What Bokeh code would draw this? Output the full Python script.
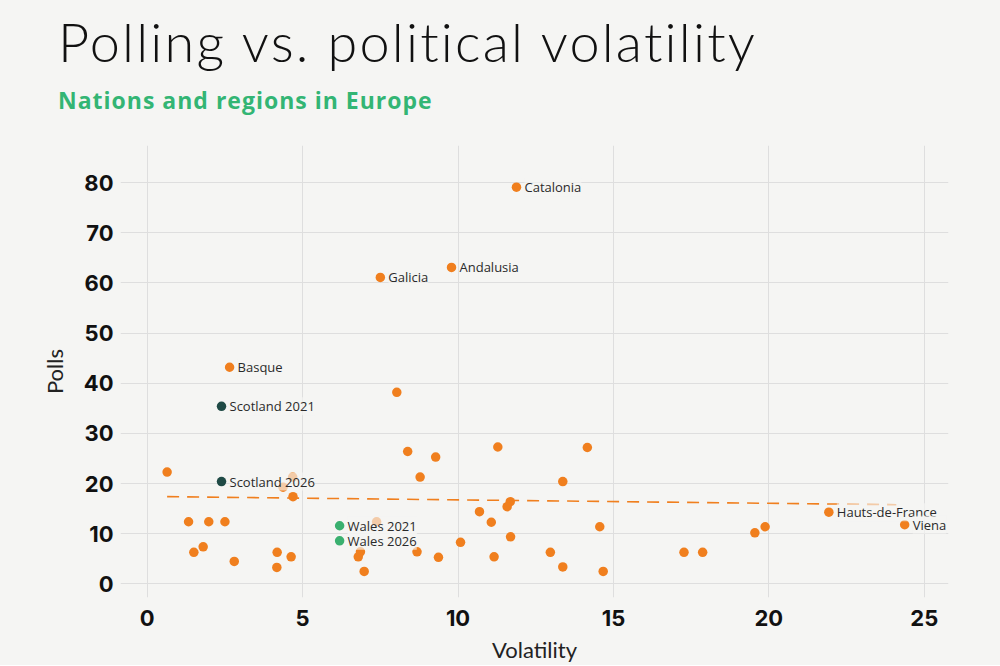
from bokeh.plotting import figure
from bokeh.models import ColumnDataSource, LabelSet, Div, Range1d, FixedTicker
from bokeh.layouts import column
from bokeh.core.properties import value
from bokeh.embed import file_html
from bokeh.resources import INLINE

# ---------------- data ----------------
other_x = [8.03, 8.38, 8.78, 0.64, 4.68, 4.37, 4.69, 1.33, 1.98, 2.50, 7.38, 1.50, 1.80, 2.80,
           4.18, 4.63, 4.17, 6.86, 6.79, 6.98, 8.68, 9.28, 11.28, 14.16, 13.37, 11.68, 11.58,
           10.69, 11.07, 14.56, 10.08, 11.69, 9.37, 11.16, 12.97, 13.37, 14.67, 17.27, 17.87,
           19.55, 19.88]
other_y = [38.2, 26.4, 21.3, 22.3, 21.3, 19.3, 17.4, 12.4, 12.4, 12.4, 12.4, 6.3, 7.4, 4.5,
           6.3, 5.4, 3.3, 6.4, 5.4, 2.5, 6.4, 25.3, 27.3, 27.2, 20.4, 16.4, 15.4,
           14.4, 12.3, 11.4, 8.3, 9.4, 5.3, 5.4, 6.3, 3.4, 2.5, 6.3, 6.3,
           10.2, 11.4]

named_regions = ["Catalonia", "Andalusia", "Galicia", "Basque", "Hauts-de-France", "Viena"]
named_x = [11.88, 9.79, 7.50, 2.65, 21.93, 24.37]
named_y = [79.1, 63.1, 61.1, 43.2, 14.3, 11.8]

scotland_labels = ["Scotland 2021", "Scotland 2026"]
scotland_x = [2.39, 2.39]
scotland_y = [35.4, 20.4]

wales_labels = ["Wales 2021", "Wales 2026"]
wales_x = [6.19, 6.19]
wales_y = [11.6, 8.6]

trend_x = [0.64, 24.10]
trend_y = [17.4, 15.8]

x_ticks = [0, 5, 10, 15, 20, 25]
y_ticks = [0, 10, 20, 30, 40, 50, 60, 70, 80]

# ---------------- styling ----------------
BG = "#f5f5f3"
ORANGE = "#f07f1e"
SCOT = "#1f4a45"
WALES = "#3ab06f"
GRID = "#dedede"

header = Div(
    text=(
        '<div style="padding-top:15px;padding-left:58px;font-family:Lato;font-weight:300;'
        'font-size:54px;line-height:54px;color:#111;white-space:nowrap;letter-spacing:2.2px;">'
        'Polling vs. political volatility</div>'
        '<div style="margin-top:20px;padding-left:58px;font-family:\'Open Sans\';font-weight:700;'
        'font-size:23px;line-height:23px;color:#33b574;white-space:nowrap;letter-spacing:1px;">'
        'Nations and regions in Europe</div>'
    ),
    width=1000, height=128, margin=(0, 0, 0, 0),
    styles={"background-color": BG},
)

p = figure(
    frame_width=828, frame_height=452,
    min_border_left=120, min_border_right=52, min_border_top=17, min_border_bottom=62,
    x_range=Range1d(-0.86, 25.78), y_range=Range1d(-2.7, 87.4),
    output_backend="svg", toolbar_location=None,
    background_fill_color=BG, border_fill_color=BG,
    margin=(0, 0, 0, 0),
)
p.outline_line_color = None

p.xaxis.ticker = FixedTicker(ticks=x_ticks)
p.yaxis.ticker = FixedTicker(ticks=y_ticks)
for ax in (p.xaxis, p.yaxis):
    ax.axis_line_color = None
    ax.major_tick_line_color = None
    ax.minor_tick_line_color = None
    ax.major_tick_out = 0
    ax.major_tick_in = 0
    ax.major_label_text_font = "Inter"
    ax.major_label_text_font_style = "bold"
    ax.major_label_text_font_size = "22px"
    ax.major_label_text_color = "#111111"
    ax.axis_label_text_font = "Lato"
    ax.axis_label_text_font_style = "normal"
    ax.axis_label_text_font_size = "22px"
    ax.axis_label_text_color = "#222222"
p.xaxis.major_label_standoff = 12
p.yaxis.major_label_standoff = 7
p.xaxis.axis_label = "Volatility"
p.yaxis.axis_label = "Polls"
p.xaxis.axis_label_standoff = 7
p.yaxis.axis_label_standoff = 13

p.xgrid.grid_line_color = GRID
p.ygrid.grid_line_color = GRID
p.xgrid.grid_line_width = 1
p.ygrid.grid_line_width = 1

# trend line
p.line(trend_x, trend_y, line_color=ORANGE, line_width=1.6, line_dash="12 8")

# points
p.scatter(other_x, other_y, size=9.5, fill_color=ORANGE, line_color=None)
p.scatter(named_x, named_y, size=9.5, fill_color=ORANGE, line_color=None)
p.scatter(scotland_x, scotland_y, size=9.5, fill_color=SCOT, line_color=None)
p.scatter(wales_x, wales_y, size=9.5, fill_color=WALES, line_color=None)

lab_src = ColumnDataSource(dict(
    x=named_x + scotland_x + wales_x,
    y=named_y + scotland_y + wales_y,
    name=named_regions + scotland_labels + wales_labels,
))
labels = LabelSet(
    x="x", y="y", text="name", source=lab_src,
    x_offset=8, y_offset=0, text_baseline="middle", text_align="left",
    text_font=value("Open Sans"), text_font_size=value("13px"), text_color="#2a2a2a",
    background_fill_color=BG, background_fill_alpha=0.65,
)
p.add_layout(labels)

layout = column(header, p, spacing=0, styles={"background-color": BG})

html = file_html(layout, INLINE)
html = html.replace("<body>", '<body style="background-color:%s;">' % BG, 1)
open("out.html", "w").write(html)
